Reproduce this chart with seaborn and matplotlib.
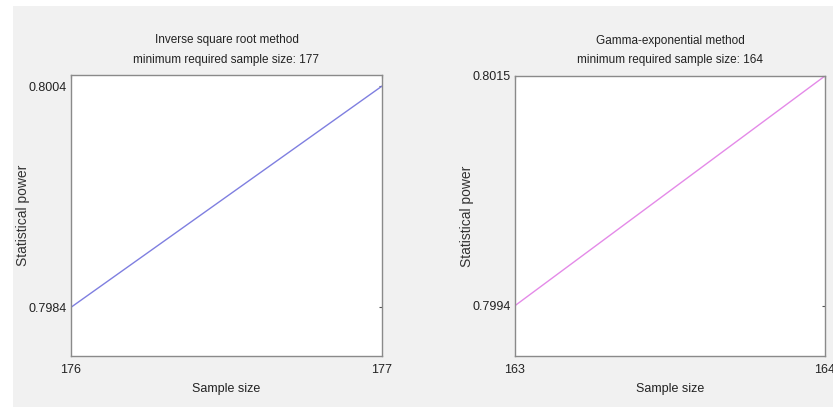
import matplotlib
matplotlib.use('Agg')
import matplotlib.pyplot as plt
from matplotlib.patches import Rectangle
import pandas as pd
import seaborn as sns

# values
left_title = 'Inverse square root method\nminimum required sample size: 177'
left_sizes = [176, 177]
left_power = [0.7984, 0.8004]
left_yticklabels = ['0.7984', '0.8004']

right_title = 'Gamma-exponential method\nminimum required sample size: 164'
right_sizes = [163, 164]
right_power = [0.7994, 0.8015]
right_yticklabels = ['0.7994', '0.8015']

sns.set_style('white')
plt.rcParams['font.family'] = ['Liberation Sans', 'DejaVu Sans']

fig = plt.figure(figsize=(8.33, 4.09), dpi=100, facecolor='white')
# light gray panel behind the plots, white strip at the edges
fig.patches.append(Rectangle((13 / 833, 2 / 409), 1, 1 - 8 / 409, transform=fig.transFigure,
                             facecolor='#f1f1f1', edgecolor='none', zorder=-10))

ax1 = fig.add_axes([0.0852, 0.1296, 0.3734, 0.687])
ax2 = fig.add_axes([0.6182, 0.1296, 0.3721, 0.6846])

panels = [
    (ax1, left_sizes, left_power, left_yticklabels, left_title, '#7f7fe0', (0.79796, 0.80050)),
    (ax2, right_sizes, right_power, right_yticklabels, right_title, '#e48ae8', (0.79894, 0.80150)),
]

for ax, sizes, power, ylabels, title, color, ylim in panels:
    df = pd.DataFrame({'Sample size': sizes, 'Statistical power': power})
    sns.lineplot(data=df, x='Sample size', y='Statistical power', color=color, linewidth=1.0, ax=ax)
    ax.set_facecolor('white')
    ax.set_xlim(sizes[0], sizes[1])
    ax.set_ylim(*ylim)
    ax.set_xticks(sizes)
    ax.set_xticklabels([str(s) for s in sizes])
    ax.set_yticks(power)
    ax.set_yticklabels(ylabels)
    ax.tick_params(direction='in', length=2, width=0.8, color='#555555', labelsize=9,
                   labelcolor='#222222', top=True, right=True, pad=3)
    ax.tick_params(axis='x', pad=6)
    for sp in ax.spines.values():
        sp.set_color('#8a8a8a')
        sp.set_linewidth(1.0)
    ax.set_title(title, fontsize=8.5, color='#222222', pad=9, linespacing=1.85)
    ax.set_xlabel('Sample size', fontsize=9, color='#222222', labelpad=5)
    ax.set_ylabel('Statistical power', fontsize=10, color='#333333', labelpad=-1)

fig.savefig('out.png', dpi=100, facecolor=fig.get_facecolor())
